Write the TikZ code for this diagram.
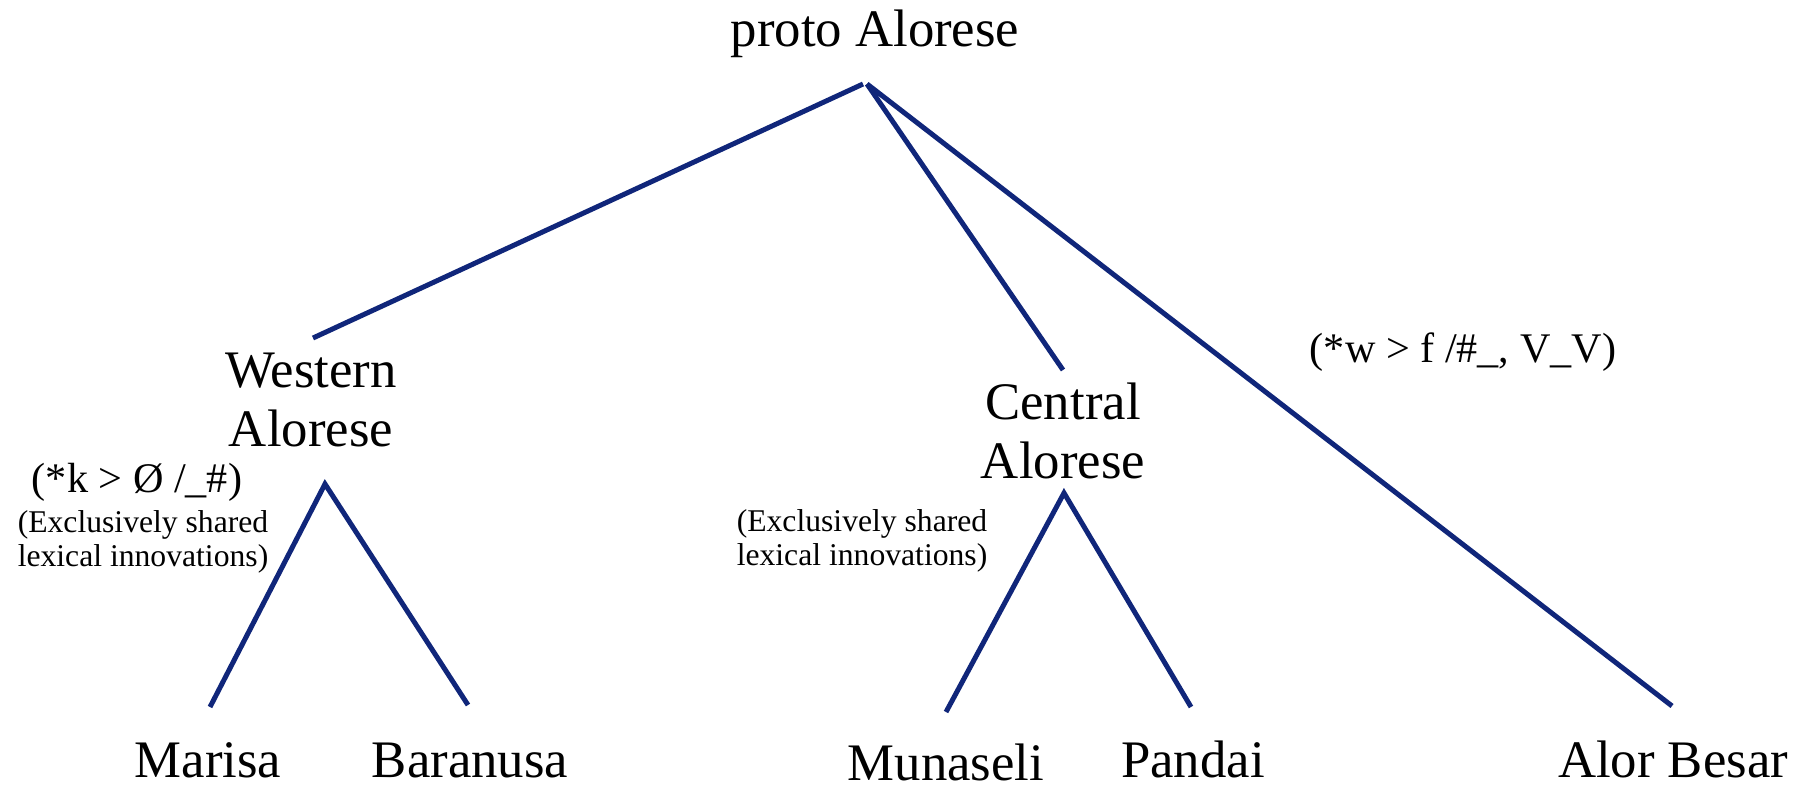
\documentclass[tikz,border=0pt]{standalone}
\usepackage{fontspec}
\setmainfont{Liberation Serif}
\usetikzlibrary{positioning}
\definecolor{treeblue}{RGB}{16,38,122}

\begin{document}
\begin{tikzpicture}[x=0.01cm,y=-0.01cm,
  lang/.style={font=\fontsize{15}{16.6}\selectfont, align=center, inner sep=0pt},
  change/.style={font=\fontsize{12}{14}\selectfont, inner sep=0pt, anchor=base},
  note/.style={font=\fontsize{9}{9.8}\selectfont, align=center, inner sep=0pt},
  branch/.style={treeblue, line width=1.42pt}]
\useasboundingbox (0,0) rectangle (1801,788);
% language names
\node[lang, anchor=base] (proto) at (875,47) {proto Alorese};
\node[lang] (western) at (311,400) {Western\\Alorese};
\node[lang] (central) at (1063,431) {Central\\Alorese};
\node[lang, anchor=base] (marisa) at (208,777) {Marisa};
\node[lang, anchor=base] (baranusa) at (470,777) {Baranusa};
\node[lang, anchor=base] (munaseli) at (946,780) {Munaseli};
\node[lang, anchor=base] (pandai) at (1193,777) {Pandai};
\node[lang, anchor=base] (alorbesar) at (1673,777) {Alor Besar};
% innovations
\node[change] (kloss) at (137,492) {(*k > Ø /\_\#)};
\node[note] (westnote) at (143,542) {(Exclusively shared\\lexical innovations)};
\node[note] (centnote) at (862,541) {(Exclusively shared\\lexical innovations)};
\node[change] (wf) at (1463,362) {(*w > f /\#\_, V\_V)};
% branch ends
\coordinate (proto-l) at (863,84);
\coordinate (proto-r) at (867,84);
\coordinate (western-top) at (313,338);
\coordinate (western-bot) at (325,484);
\coordinate (central-top) at (1063,370);
\coordinate (central-bot) at (1064,493);
\coordinate (marisa-top) at (210,707);
\coordinate (baranusa-top) at (468,705);
\coordinate (munaseli-top) at (946,712);
\coordinate (pandai-top) at (1191,707);
\coordinate (alorbesar-top) at (1672,706);
\draw[branch] (western-top) -- (proto-l);
\draw[branch] (proto-r) -- (central-top);
\draw[branch] (proto-r) -- (alorbesar-top);
\draw[branch] (marisa-top) -- (western-bot) -- (baranusa-top);
\draw[branch] (munaseli-top) -- (central-bot) -- (pandai-top);
\end{tikzpicture}
\end{document}
